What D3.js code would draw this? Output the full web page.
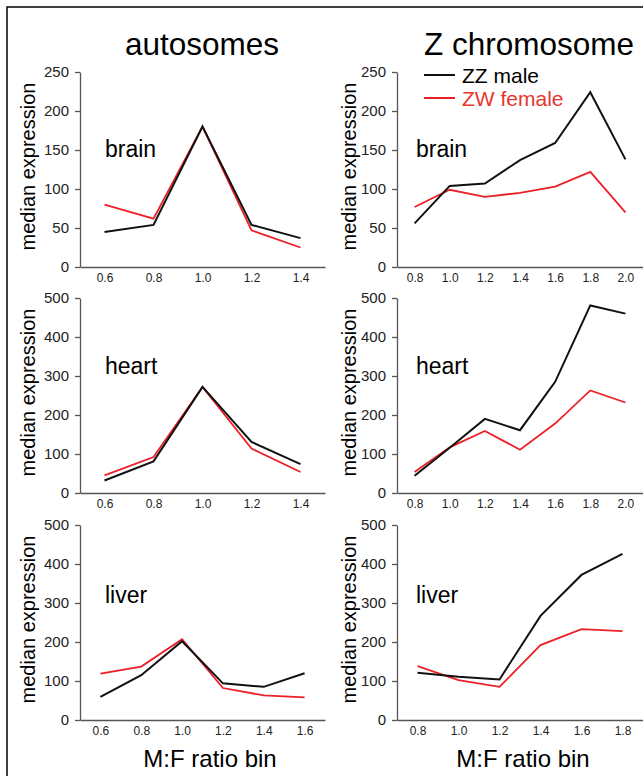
<!DOCTYPE html>
<html>
<head>
<meta charset="utf-8">
<script src="https://cdn.jsdelivr.net/npm/d3@7"></script>
<style>
  body { margin: 0; background: #fff; }
  svg { display: block; font-family: "Liberation Sans", Arial, sans-serif; }
</style>
</head>
<body>
<div id="chart"></div>
<script>
// Data (median expression per M:F ratio bin)
const autoBinsShort = [0.6, 0.8, 1.0, 1.2, 1.4];
const autoBinsLiver = [0.6, 0.8, 1.0, 1.2, 1.4, 1.6];
const zBinsLong = [0.8, 1.0, 1.2, 1.4, 1.6, 1.8, 2.0];
const zBinsLiver = [0.8, 1.0, 1.2, 1.4, 1.6, 1.8];

const autoBrainMale = [45, 54, 180, 54, 37];
const autoBrainFemale = [80, 62, 180, 47, 25];
const autoHeartMale = [32, 81, 272, 131, 74];
const autoHeartFemale = [45, 92, 272, 114, 54];
const autoLiverMale = [59, 115, 202, 94, 85, 120];
const autoLiverFemale = [119, 137, 207, 82, 63, 58];

const zBrainMale = [56, 104, 107, 137, 159, 224, 138];
const zBrainFemale = [77, 99, 90, 95, 103, 122, 70];
const zHeartMale = [44, 116, 190, 161, 285, 481, 460];
const zHeartFemale = [54, 117, 159, 111, 178, 263, 232];
const zLiverMale = [121, 111, 104, 267, 372, 426];
const zLiverFemale = [138, 102, 85, 192, 233, 228];

const yTicksBrain = [0, 50, 100, 150, 200, 250];
const yTicksOther = [0, 100, 200, 300, 400, 500];

const columnTitles = ["autosomes", "Z chromosome"];
const tissues = ["brain", "heart", "liver"];
const seriesNames = ["ZZ male", "ZW female"];

const maleColor = "#111";
const femaleColor = "#ec2027";

const width = 643, height = 776;

// layout of the six panels
const cols = [
  { axisX: 80, right: 325, labelX: 35, tissueX: 105, titleX: 202 },
  { axisX: 397, right: 643, labelX: 356, tissueX: 416, titleX: 529 }
];
const rows = [
  { top: 72, bottom: 267, tissueY: 157 },
  { top: 298, bottom: 493, tissueY: 374 },
  { top: 525, bottom: 720, tissueY: 603 }
];

const panels = [
  { col: 0, row: 0, bins: autoBinsShort, xDom: [0.5, 1.5], yMax: 250, yTicks: yTicksBrain, male: autoBrainMale, female: autoBrainFemale },
  { col: 1, row: 0, bins: zBinsLong, xDom: [0.7, 2.1], yMax: 250, yTicks: yTicksBrain, male: zBrainMale, female: zBrainFemale },
  { col: 0, row: 1, bins: autoBinsShort, xDom: [0.5, 1.5], yMax: 500, yTicks: yTicksOther, male: autoHeartMale, female: autoHeartFemale },
  { col: 1, row: 1, bins: zBinsLong, xDom: [0.7, 2.1], yMax: 500, yTicks: yTicksOther, male: zHeartMale, female: zHeartFemale },
  { col: 0, row: 2, bins: autoBinsLiver, xDom: [0.5, 1.7], yMax: 500, yTicks: yTicksOther, male: autoLiverMale, female: autoLiverFemale },
  { col: 1, row: 2, bins: zBinsLiver, xDom: [0.7, 1.9], yMax: 500, yTicks: yTicksOther, male: zLiverMale, female: zLiverFemale }
];

const svg = d3.select("#chart")
  .append("svg")
  .attr("width", width)
  .attr("height", height);

// frame on left and top edges
svg.append("path")
  .attr("d", `M7,${height} V7 H${width}`)
  .attr("fill", "none")
  .attr("stroke", "#000")
  .attr("stroke-width", 1.5);

// column titles
columnTitles.forEach((t, i) => {
  svg.append("text")
    .attr("x", cols[i].titleX)
    .attr("y", 55)
    .attr("text-anchor", "middle")
    .attr("font-size", 31.5)
    .attr("fill", "#000")
    .text(t);
});

panels.forEach((p) => {
  const c = cols[p.col], r = rows[p.row];
  const x = d3.scaleLinear().domain(p.xDom).range([c.axisX, c.right]);
  const y = d3.scaleLinear().domain([0, p.yMax]).range([r.bottom, r.top]);

  const g = svg.append("g");

  // x axis: line + labels, no tick marks
  const xAxis = g.append("g")
    .attr("transform", `translate(0,${r.bottom})`)
    .call(d3.axisBottom(x)
      .tickValues(p.bins)
      .tickFormat(d3.format(".1f"))
      .tickSizeInner(0)
      .tickSizeOuter(0)
      .tickPadding(6));
  xAxis.select(".domain").attr("stroke", "#555").attr("stroke-width", 1.3);
  xAxis.selectAll("text").attr("font-size", 12).attr("fill", "#222").attr("font-family", "Liberation Sans, Arial, sans-serif");

  // y axis
  const yAxis = g.append("g")
    .attr("transform", `translate(${c.axisX},0)`)
    .call(d3.axisLeft(y)
      .tickValues(p.yTicks)
      .tickSizeInner(5)
      .tickSizeOuter(0)
      .tickPadding(6));
  yAxis.select(".domain").attr("stroke", "#555").attr("stroke-width", 1.3);
  yAxis.selectAll(".tick line").attr("stroke", "#555").attr("stroke-width", 1.3);
  yAxis.selectAll("text").attr("font-size", 15).attr("fill", "#222").attr("font-family", "Liberation Sans, Arial, sans-serif");

  // y label
  g.append("text")
    .attr("transform", `translate(${c.labelX},${(r.top + r.bottom) / 2 - 3}) rotate(-90)`)
    .attr("text-anchor", "middle")
    .attr("font-size", 20)
    .attr("fill", "#000")
    .text("median expression");

  // tissue name
  g.append("text")
    .attr("x", c.tissueX)
    .attr("y", r.tissueY)
    .attr("font-size", 23)
    .attr("fill", "#000")
    .text(tissues[p.row]);

  const line = d3.line()
    .x((d, i) => x(p.bins[i]))
    .y((d) => y(d));

  g.append("path")
    .datum(p.female)
    .attr("d", line)
    .attr("fill", "none")
    .attr("stroke", femaleColor)
    .attr("stroke-width", 1.8);

  g.append("path")
    .datum(p.male)
    .attr("d", line)
    .attr("fill", "none")
    .attr("stroke", maleColor)
    .attr("stroke-width", 2);
});

// x axis titles
cols.forEach((c, i) => {
  svg.append("text")
    .attr("x", i === 0 ? 210 : 523)
    .attr("y", 767)
    .attr("text-anchor", "middle")
    .attr("font-size", 24)
    .attr("fill", "#000")
    .text("M:F ratio bin");
});

// legend
const legend = svg.append("g").attr("transform", "translate(424,75)");
seriesNames.forEach((name, i) => {
  const col = i === 0 ? maleColor : femaleColor;
  legend.append("line")
    .attr("x1", 0).attr("x2", 31)
    .attr("y1", i * 23).attr("y2", i * 23)
    .attr("stroke", col)
    .attr("stroke-width", 2);
  legend.append("text")
    .attr("x", 38)
    .attr("y", i * 23 + 7.5)
    .attr("font-size", 21)
    .attr("fill", i === 0 ? "#000" : "#e8352e")
    .text(name);
});
</script>
</body>
</html>
